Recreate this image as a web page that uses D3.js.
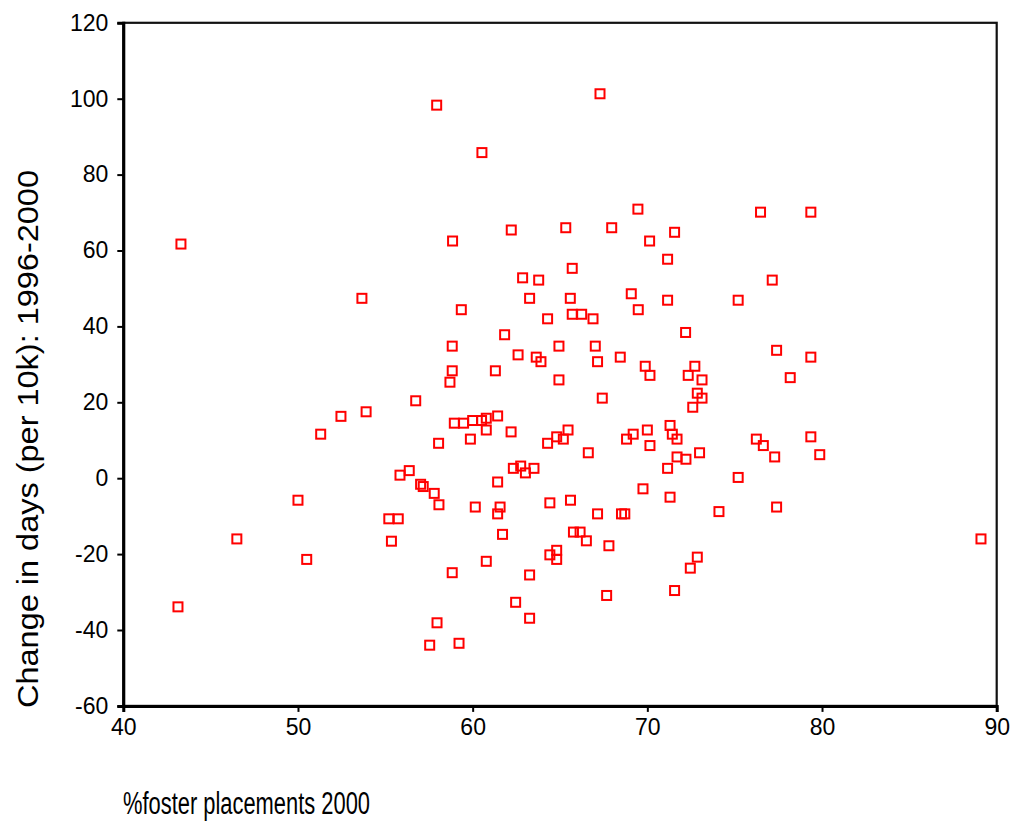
<!DOCTYPE html>
<html>
<head>
<meta charset="utf-8">
<script src="https://cdn.jsdelivr.net/npm/d3@7"></script>
<style>
  body { margin: 0; background: #fff; }
  svg { display: block; }
  text { font-family: Arial, "Liberation Sans", Helvetica, sans-serif; }
</style>
</head>
<body>
<svg id="chart" width="1014" height="825"></svg>
<script>
// ---- data ----
const fosterPct = [
  43.3, 43.13, 46.5, 50.0, 50.5, 55.2, 55.74, 55.35, 53.66, 56.74,
  53.9, 52.46, 51.3, 55.84, 56.37, 57.02, 57.17, 57.8, 58.07, 71.16,
  65.7, 62.86, 63.78, 69.08, 63.26, 65.59, 71.16, 59.35, 69.48, 65.7,
  66.24, 64.29, 66.89, 72.19, 61.83, 58.83, 64.94, 67.02, 62.6, 63.64,
  63.91, 67.15, 68.45, 69.88, 72.72, 58.83, 61.3, 70.15, 72.34, 73.13,
  58.7, 64.94, 72.86, 73.13, 72.6, 67.42, 58.95, 59.48, 60.0, 60.51,
  60.78, 61.43, 60.78, 62.2, 59.87, 58.05, 65.46, 64.81, 65.19, 64.29,
  66.62, 71.3, 71.43, 71.7, 70.0, 68.81, 69.19, 70.15, 72.99, 71.7,
  72.21, 71.16, 69.75, 71.3, 61.43, 62.33, 62.75, 63.02, 63.51, 64.42,
  65.6, 67.29, 57.94, 60.53, 69.46, 58.85, 62.21, 65.33, 67.96, 70.13,
  71.56, 76.48, 79.36, 77.15, 75.2, 77.4, 79.36, 78.18, 76.24, 76.64,
  77.29, 79.36, 79.87, 75.2, 60.15, 61.57, 61.43, 61.71, 67.15, 68.52,
  68.71, 74.1, 65.77, 66.15, 66.51, 67.8, 64.42, 64.81, 64.81, 60.78,
  58.83, 63.26, 62.46, 63.26, 57.96, 57.54, 59.22, 67.67, 71.56, 72.46,
  72.86, 77.4, 89.1
];
const changeDays = [
  61.7, -33.9, -16.0, -5.8, -21.4, -10.7, -10.7, -16.6, 47.4, 20.4,
  17.5, 16.3, 11.6, 0.8, 2.0, -1.6, -2.2, -4.0, -7.0, 57.7,
  55.3, 52.8, 52.2, 48.6, 47.4, 47.4, 46.9, 44.4, 44.4, 43.2,
  43.2, 42.0, 42.0, 38.4, 37.8, 34.8, 34.8, 34.8, 32.5, 31.9,
  30.7, 30.7, 31.9, 29.5, 29.5, 28.3, 28.3, 27.1, 27.1, 25.9,
  25.3, 25.9, 22.4, 21.1, 18.7, 21.1, 14.5, 14.5, 15.2, 15.2,
  15.8, 16.4, 12.7, 12.2, 10.3, 9.2, 12.7, 10.9, 10.3, 9.2,
  6.7, 13.9, 11.6, 10.3, 12.7, 10.3, 11.6, 8.6, 6.7, 5.6,
  5.0, 2.6, -2.8, -5.0, -1.0, 2.6, 3.2, 1.4, 2.6, -6.5,
  -5.8, 101.3, 98.3, 85.8, 70.9, 62.5, 65.4, 66.0, 66.0, 62.5,
  64.8, 70.1, 70.1, 52.2, 46.9, 33.7, 31.9, 26.5, 10.3, 8.6,
  5.6, 10.9, 6.2, 0.2, -7.6, -7.6, -9.4, -14.8, -9.4, -9.4,
  -9.4, -8.8, -14.2, -14.2, -16.5, -17.8, -20.2, -19.0, -21.4, -21.9,
  -24.9, -25.5, -32.7, -36.9, -38.1, -44.0, -43.5, -30.9, -29.6, -23.7,
  -20.8, -7.6, -16.0
];
const xTicks = [40, 50, 60, 70, 80, 90];
const yTicks = [-60, -40, -20, 0, 20, 40, 60, 80, 100, 120];
const xLabel = "%foster placements 2000";
const yLabel = "Change in days (per 10k): 1996-2000";

// ---- layout ----
const svg = d3.select("#chart");
const mLeft = 123.3, mRight = 996.7, mTop = 22.8, mBottom = 705.9;

const x = d3.scaleLinear().domain([40, 90]).range([mLeft, mRight]);
const y = d3.scaleLinear().domain([-60, 120]).range([mBottom, mTop]);

// frame
svg.append("rect")
  .attr("x", mLeft).attr("y", mTop)
  .attr("width", mRight - mLeft).attr("height", mBottom - mTop)
  .attr("fill", "none").attr("stroke", "#111").attr("stroke-width", 2.2);

// axes
const fmt = d => String(d);
const xAxis = svg.append("g")
  .attr("transform", `translate(0,${mBottom})`)
  .call(d3.axisBottom(x).tickValues(xTicks).tickSize(6).tickPadding(7).tickFormat(fmt));
const yAxis = svg.append("g")
  .attr("transform", `translate(${mLeft},0)`)
  .call(d3.axisLeft(y).tickValues(yTicks).tickSize(6).tickPadding(9).tickFormat(fmt));

[xAxis, yAxis].forEach(g => {
  g.select(".domain").attr("stroke", "#000").attr("stroke-width", 3);
  g.selectAll(".tick line").attr("stroke", "#000").attr("stroke-width", 2);
  g.selectAll(".tick text").attr("font-size", 23).attr("fill", "#000")
    .attr("font-family", "Arial, 'Liberation Sans', sans-serif");
});

// points
const pts = fosterPct.map((v, i) => ({ x: v, y: changeDays[i] }));
const s = 9;
svg.append("g").selectAll("rect")
  .data(pts)
  .join("rect")
  .attr("x", d => x(d.x) - s / 2)
  .attr("y", d => y(d.y) - s / 2)
  .attr("width", s).attr("height", s)
  .attr("fill", "none")
  .attr("stroke", "#ff0000")
  .attr("stroke-width", 2);

// axis titles
svg.append("text")
  .attr("x", 123).attr("y", 814)
  .attr("font-size", 31)
  .attr("textLength", 247)
  .attr("lengthAdjust", "spacingAndGlyphs")
  .attr("fill", "#000")
  .text(xLabel);

svg.append("text")
  .attr("transform", "translate(38,439) rotate(-90)")
  .attr("text-anchor", "middle")
  .attr("font-size", 29)
  .attr("textLength", 538)
  .attr("lengthAdjust", "spacingAndGlyphs")
  .attr("fill", "#000")
  .text(yLabel);
</script>
</body>
</html>
